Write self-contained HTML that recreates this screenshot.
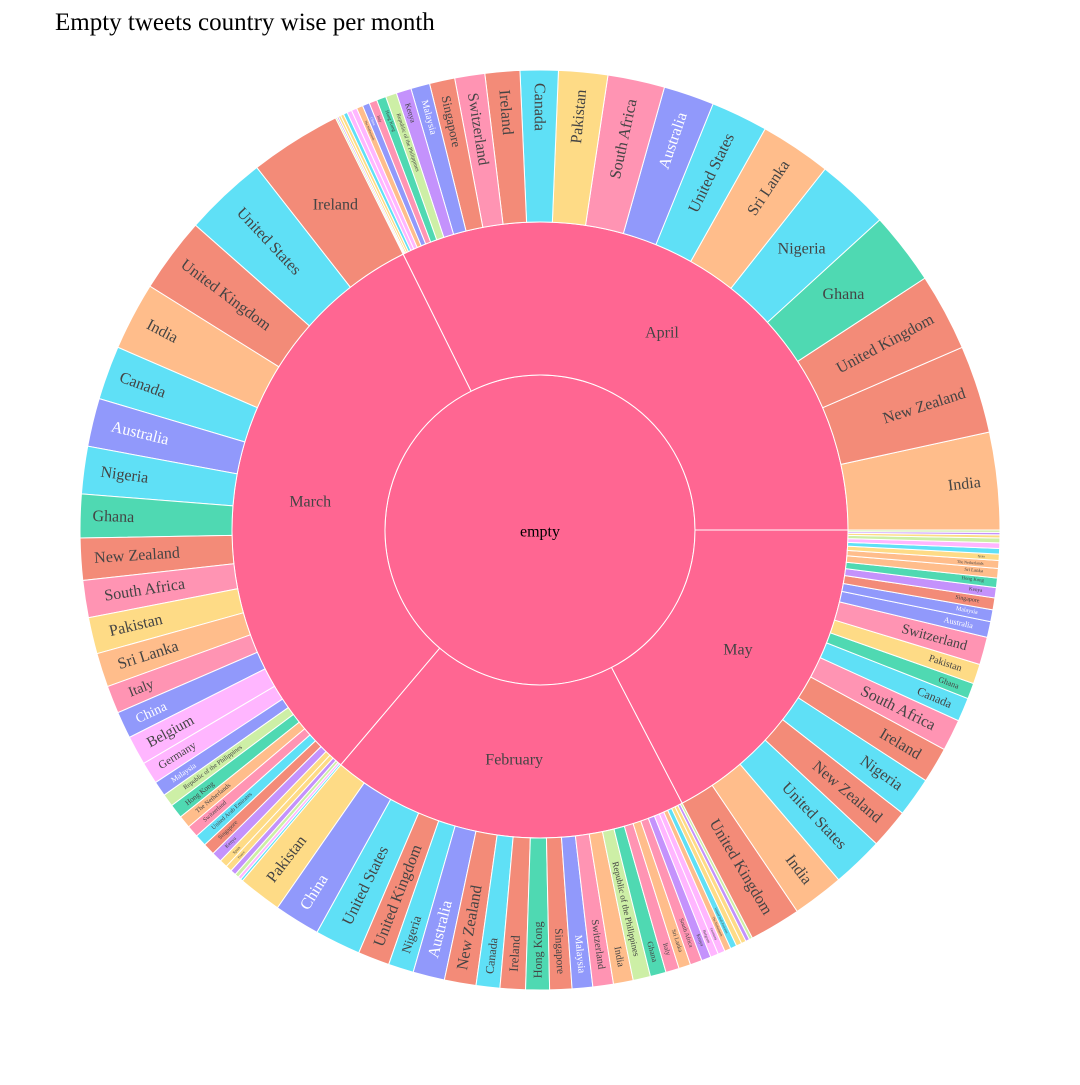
<!DOCTYPE html>
<html>
<head>
<meta charset="utf-8">
<style>
  html, body { margin: 0; padding: 0; background: #fff; }
  body { width: 1080px; height: 1080px; overflow: hidden; }
  svg text { font-family: "Liberation Serif", serif; }
</style>
</head>
<body>
<svg id="chart" width="1080" height="1080" viewBox="0 0 1080 1080" xmlns="http://www.w3.org/2000/svg">
  <rect width="1080" height="1080" fill="#fff"/>
  <text x="55" y="30" font-size="25" fill="#000">Empty tweets country wise per month</text>
  <g id="rings"></g>
  <g id="labels"></g>
</svg>
<script>
const rootLabel = "empty";
const months = ["April", "March", "February", "May"];

const aprCountries = ["India","New Zealand","United Kingdom","Ghana","Nigeria","Sri Lanka","United States","Australia","South Africa","Pakistan","Canada","Ireland","Switzerland","Singapore","Malaysia","Kenya","Republic of the Philippines","Hong Kong","Italy","China","The Netherlands","Belgium","Germany","United Arab Emirates","Spain","France","Japan","Brazil"];
const aprValues = [12.3,11.1,9.8,9.2,9.3,9.0,7.2,6.4,7.2,6.2,4.8,4.4,3.8,3.2,2.4,1.9,1.4,1.2,1.0,0.9,0.8,0.7,0.6,0.5,0.4,0.3,0.2,0.2];

const marCountries = ["Ireland","United States","United Kingdom","India","Canada","Australia","Nigeria","Ghana","New Zealand","South Africa","Pakistan","Sri Lanka","Italy","China","Belgium","Germany","Malaysia","Republic of the Philippines","Hong Kong","The Netherlands","Switzerland","United Arab Emirates","Singapore","Kenya","Spain","France","Japan","Brazil","Mexico","Qatar"];
const marValues = [11.6,10.5,9.5,8.6,6.8,6.1,6.0,5.5,5.3,4.7,4.6,4.3,3.5,3.4,3.7,2.8,1.9,1.6,1.8,1.6,1.5,1.5,1.5,1.3,1.0,0.8,0.7,0.5,0.4,0.3];

const febCountries = ["Pakistan","China","United States","United Kingdom","Nigeria","Australia","New Zealand","Canada","Ireland","Hong Kong","Singapore","Malaysia","Switzerland","India","Republic of the Philippines","Ghana","Italy","Sri Lanka","South Africa","Kenya","Belgium","Germany","The Netherlands","United Arab Emirates","Spain","France","Japan","Brazil"];
const febValues = [5.5,5.8,5.8,4.0,3.2,4.0,4.0,3.0,3.2,3.0,2.8,2.6,2.6,2.5,2.2,2.0,1.7,1.5,1.5,1.2,1.0,0.9,0.8,0.8,0.7,0.6,0.5,0.4];

const mayCountries = ["United Kingdom","India","United States","New Zealand","Nigeria","Ireland","South Africa","Canada","Ghana","Pakistan","Switzerland","Australia","Malaysia","Singapore","Kenya","Hong Kong","Sri Lanka","The Netherlands","Spain","United Arab Emirates","Belgium","Republic of the Philippines","France","Japan","Brazil"];
const mayValues = [6.5,6.5,6.5,5.0,5.0,4.5,4.0,3.0,2.0,2.5,3.5,2.0,1.5,1.5,1.3,1.2,1.2,1.0,0.8,0.7,0.7,0.6,0.4,0.3,0.3];

const childCountries = [aprCountries, marCountries, febCountries, mayCountries];
const childValues = [aprValues, marValues, febValues, mayValues];

const colorMap = {
  "India":"#ffbd8b","New Zealand":"#f38b78","United Kingdom":"#f38b78","Ghana":"#4fd9b2",
  "Nigeria":"#5fe0f6","Sri Lanka":"#ffbd8b","United States":"#5fe0f6","Australia":"#9199fb",
  "South Africa":"#ff94b3","Pakistan":"#fedb86","Canada":"#5fe0f6","Ireland":"#f38b78",
  "Switzerland":"#ff94b3","Singapore":"#f38b78","Malaysia":"#9199fb","Kenya":"#c492fc",
  "Republic of the Philippines":"#cdefa6","China":"#9199fb","Belgium":"#ffb6ff","Germany":"#ffb6ff",
  "Hong Kong":"#4fd9b2","The Netherlands":"#ffbd8b","Italy":"#ff94b3","United Arab Emirates":"#5fe0f6",
  "Spain":"#fedb86","France":"#fedb86","Japan":"#c492fc","Brazil":"#cdefa6","Mexico":"#ffb6ff","Qatar":"#5fe0f6"
};
const horizontalLabels = ["March|Ireland","April|Ghana","April|Nigeria"];

const CX = 540, CY = 530, R0 = 155, R1 = 308, R2 = 460;
const NS = "http://www.w3.org/2000/svg";
const rings = document.getElementById("rings");
const labels = document.getElementById("labels");

const monthTotals = childValues.map(a => a.reduce((s, v) => s + v, 0));
const grand = monthTotals.reduce((s, v) => s + v, 0);
function angleScale(v) { return v / grand * 360; }

function pt(r, deg) {
  const a = deg * Math.PI / 180;
  return [CX + r * Math.cos(a), CY - r * Math.sin(a)];
}
function arcPath(r1, r2, a0, a1) {
  const large = (a1 - a0) > 180 ? 1 : 0;
  const p1 = pt(r2, a0), p2 = pt(r2, a1), p3 = pt(r1, a1), p4 = pt(r1, a0);
  return `M${p1[0]},${p1[1]} A${r2},${r2} 0 ${large} 0 ${p2[0]},${p2[1]} L${p3[0]},${p3[1]} A${r1},${r1} 0 ${large} 1 ${p4[0]},${p4[1]} Z`;
}
function addText(x, y, str, fs, rot, fill, name) {
  const t = document.createElementNS(NS, "text");
  t.setAttribute("x", x); t.setAttribute("y", y);
  t.setAttribute("font-size", fs);
  t.setAttribute("fill", fill);
  t.setAttribute("text-anchor", "middle");
  t.setAttribute("dominant-baseline", "central");
  if (rot) t.setAttribute("transform", `rotate(${rot} ${x} ${y})`);
  t.textContent = str;
  
  
  labels.appendChild(t);
}

const root = document.createElementNS(NS, "circle");
root.setAttribute("cx", CX); root.setAttribute("cy", CY); root.setAttribute("r", R0);
root.setAttribute("fill", "#ff6692"); root.setAttribute("stroke", "#fff"); root.setAttribute("stroke-width", "1");


rings.appendChild(root);
addText(CX, CY + 2, rootLabel, 16, 0, "#000", "root-label");

let start = 0;
months.forEach((m, i) => {
  const a0 = start, a1 = start + angleScale(monthTotals[i]);
  const p = document.createElementNS(NS, "path");
  p.setAttribute("d", arcPath(R0, R1, a0, a1));
  p.setAttribute("fill", "#ff6692"); p.setAttribute("stroke", "#fff"); p.setAttribute("stroke-width", "1");
  
  
  rings.appendChild(p);
  const mid = (a0 + a1) / 2, lp = pt((R0 + R1) / 2, mid);
  addText(lp[0], lp[1], m, 16, 0, "#444", "month-label-" + m.toLowerCase());

  let cs = a0;
  childCountries[i].forEach((c, j) => {
    const w = angleScale(childValues[i][j]);
    const b0 = cs, b1 = cs + w;
    cs = b1;
    const q = document.createElementNS(NS, "path");
    q.setAttribute("d", arcPath(R1, R2, b0, b1));
    q.setAttribute("fill", colorMap[c] || "#ccc");
    q.setAttribute("stroke", "#fff"); q.setAttribute("stroke-width", "1");
    
    
    rings.appendChild(q);
    const bm = (b0 + b1) / 2;
    const horiz = horizontalLabels.indexOf(m + "|" + c) >= 0;
    let fs = Math.min(16, 0.75 * R1 * w * Math.PI / 180, 135 / (c.length * 0.5));
    if (fs < 3) return;
    let rr = (R1 + R2) / 2;
    let rot = 0;
    if (!horiz) {
      rot = Math.cos(bm * Math.PI / 180) >= 0 ? -bm : 180 - bm;
      const tw = c.length * fs * 0.48;
      rr = Math.max(rr, R2 - tw / 2 - 14);
    }
    const lpos = pt(rr, bm);
    const fill = colorMap[c] === "#9199fb" ? "#fff" : "#444";
    addText(lpos[0], lpos[1], c, fs.toFixed(1), rot, fill, 'label-' + m.toLowerCase() + '-' + c.toLowerCase().replace(/ /g, '-'));
  });
  start = a1;
});
</script>
</body>
</html>
